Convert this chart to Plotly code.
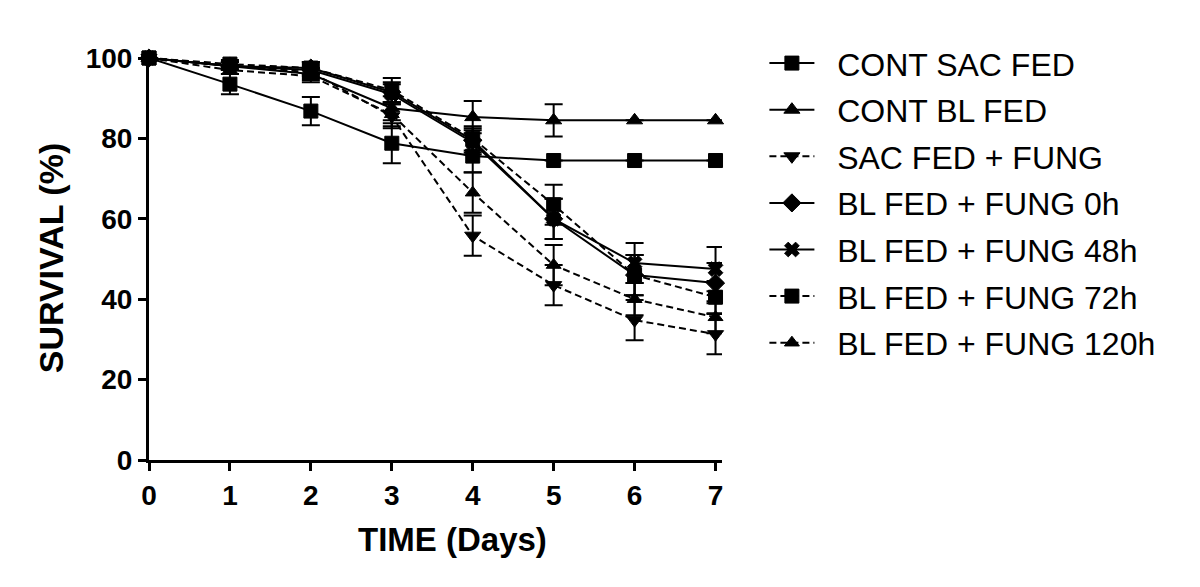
import plotly.graph_objects as go

days = [0, 1, 2, 3, 4, 5, 6, 7]
series_names = ["CONT SAC FED", "CONT BL FED", "SAC FED + FUNG", "BL FED + FUNG 0h",
                "BL FED + FUNG 48h", "BL FED + FUNG 72h", "BL FED + FUNG 120h"]

cont_sac = [100, 93.5, 86.8, 78.8, 75.6, 74.5, 74.5, 74.5]
cont_sac_err = [0, 2.5, 3.5, 5, 4, 0, 0, 0]
cont_bl = [100, 98, 96, 87.5, 85.3, 84.5, 84.5, 84.5]
cont_bl_err = [0, 1, 1.5, 3, 4, 4, 0, 0]
sac_fung = [100, 98, 96.5, 85.5, 55.8, 43.5, 34.8, 31.3]
sac_fung_err = [0, 1, 1.5, 3, 5, 5, 5, 5]
bl_0h = [100, 98, 97.5, 91.5, 79.5, 60, 46, 44]
bl_0h_err = [0, 1, 1.5, 2.5, 3, 5, 5, 5]
bl_48h = [100, 98, 97, 91, 79, 60, 49, 47.5]
bl_48h_err = [0, 1, 1.5, 2.5, 3, 5, 5, 5.5]
bl_72h = [100, 98.5, 97.5, 92, 80, 63.5, 46, 40.5]
bl_72h_err = [0, 1, 1.5, 3, 3, 5, 5, 4]
bl_120h = [100, 97, 95.5, 86, 66.5, 48.5, 40, 35.5]
bl_120h_err = [0, 1, 1.5, 3, 5, 5, 4, 4]

values = [cont_sac, cont_bl, sac_fung, bl_0h, bl_48h, bl_72h, bl_120h]
errors = [cont_sac_err, cont_bl_err, sac_fung_err, bl_0h_err, bl_48h_err, bl_72h_err, bl_120h_err]
symbols = ["square", "triangle-up", "triangle-down", "diamond", "x", "square", "triangle-up"]
dashes = ["solid", "solid", "7px,4px", "solid", "solid", "7px,4px", "7px,4px"]
sizes = [14, 14, 14, 14, 13, 14, 13]

fig = go.Figure()
for i, name in enumerate(series_names):
    fig.add_trace(go.Scatter(
        x=days, y=values[i], name="\u00a0\u00a0" + name, mode="lines+markers",
        legendgroup=f"g{i}",
        line=dict(color="black", width=2, dash=dashes[i]),
        marker=dict(symbol=symbols[i], size=sizes[i], color="black",
                    line=dict(color="black", width=1)),
        error_y=dict(type="data", array=errors[i], visible=True,
                     color="black", thickness=2, width=9),
        cliponaxis=False,
    ))

fig.update_layout(
    width=1200, height=587,
    paper_bgcolor="white", plot_bgcolor="white",
    margin=dict(l=141, r=486, t=48, b=135, autoexpand=False),
    font=dict(family="Arial, Liberation Sans, sans-serif", color="black"),
    showlegend=True,
    legend=dict(x=1.074, y=1.05, xanchor="left", yanchor="top",
                font=dict(size=32, family="Arial, Liberation Sans, sans-serif"),
                itemwidth=45, tracegroupgap=2, bgcolor="rgba(0,0,0,0)",
                maxheight=560),
    xaxis=dict(
        range=[0, 7.08], tickvals=days, ticktext=[str(d) for d in days],
        showline=True, linecolor="black", linewidth=3,
        ticks="outside", ticklen=8, tickwidth=3, tickcolor="black",
        showgrid=False, zeroline=False, automargin=False,
        tickfont=dict(size=28, family="Liberation Sans, Arial, sans-serif", weight="bold"),
    ),
    yaxis=dict(
        range=[0, 100.5], tickvals=[0, 20, 40, 60, 80, 100],
        showline=True, linecolor="black", linewidth=3,
        ticks="outside", ticklen=8, tickwidth=3, tickcolor="black",
        showgrid=False, zeroline=False, automargin=False,
        tickfont=dict(size=28, family="Liberation Sans, Arial, sans-serif", weight="bold"),
        title=dict(text="<b>SURVIVAL (%)</b>", font=dict(size=34), standoff=12),
    ),
    annotations=[dict(
        text="<b>TIME (Days)</b>", xref="paper", yref="paper",
        x=0.529, y=-0.196, xanchor="center", yanchor="middle",
        showarrow=False, font=dict(size=33, color="black"),
    )],
)

fig.write_html("out.html")
